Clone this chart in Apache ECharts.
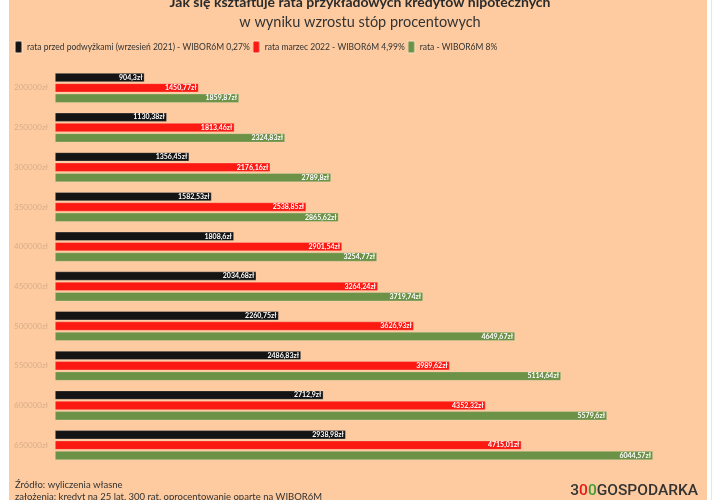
<!DOCTYPE html>
<html>
<head>
<meta charset="utf-8">
<script src="https://cdn.jsdelivr.net/npm/echarts@6/dist/echarts.min.js"></script>
<style>
  html, body { margin: 0; padding: 0; background: #ffffff; }
  #frame { position: absolute; left: 9px; top: 0; width: 698px; height: 500px; background: #fdcb9f; }
  #edge { position: absolute; left: 711px; top: 0; width: 1px; height: 500px; background: #e6e6e6; }
  #chart { position: absolute; left: 0; top: 0; width: 720px; height: 500px; }
</style>
</head>
<body>
<div id="frame"></div>
<div id="edge"></div>
<div id="chart"></div>
<script>
const FONT = "Lato, sans-serif";
const titleText = 'Jak się kształtuje rata przykładowych kredytów hipotecznych';
const subtitleText = 'w wyniku wzrostu stóp procentowych';
const categories = ['200000zł','250000zł','300000zł','350000zł','400000zł','450000zł','500000zł','550000zł','600000zł','650000zł'];
const seriesNames = ['rata przed podwyżkami (wrzesień 2021) - WIBOR6M 0,27%', 'rata marzec 2022 - WIBOR6M 4,99%', 'rata - WIBOR6M 8%'];
const rateBefore = [904.3, 1130.38, 1356.45, 1582.53, 1808.6, 2034.68, 2260.75, 2486.83, 2712.9, 2938.98];
const rateMarch = [1450.77, 1813.46, 2176.16, 2538.85, 2901.54, 3264.24, 3626.93, 3989.62, 4352.32, 4715.01];
const rate8 = [1859.87, 2324.83, 2789.8, 2865.62, 3254.77, 3719.74, 4649.67, 5114.64, 5579.6, 6044.57];
const colors = ['#141414', '#fb1912', '#6b9246'];
const sourceText = 'Źródło: wyliczenia własne';
const assumptionText = 'założenia: kredyt na 25 lat, 300 rat, oprocentowanie oparte na WIBOR6M';

const chart = echarts.init(document.getElementById('chart'));
const fmt = p => String(p.value).replace('.', ',') + 'zł';
const mk = (name, data, color) => ({
  name, type: 'bar', data,
  barWidth: 9, barGap: '15%',
  itemStyle: { color, borderColor: 'rgba(255,225,200,0.5)', borderWidth: 0.6 },
  label: { show: true, position: 'insideRight', distance: 2, formatter: fmt,
    color: '#ffffff', fontSize: 7, fontWeight: 'bold', fontFamily: FONT },
  emphasis: { disabled: true }
});
chart.setOption({
  animation: false,
  color: colors,
  title: [
    { text: titleText, left: 'center', top: -5, padding: 0,
      textStyle: { fontFamily: FONT, fontSize: 14, fontWeight: 'bold', color: '#2b2b2b' } },
    { text: subtitleText, left: 'center', top: 15, padding: 0,
      textStyle: { fontFamily: FONT, fontSize: 14.5, fontWeight: 'normal', color: '#333333' } }
  ],
  legend: {
    left: 14, top: 40, padding: 0, itemGap: 2, itemWidth: 7, itemHeight: 12,
    icon: 'roundRect',
    textStyle: { fontFamily: FONT, fontSize: 8.5, color: '#333333' },
    data: seriesNames
  },
  grid: { left: 55, right: 22, top: 68, bottom: 35 },
  xAxis: { type: 'value', min: 0, max: 6500, show: false },
  yAxis: {
    type: 'category', data: categories, inverse: true,
    axisLine: { show: false }, axisTick: { show: false },
    axisLabel: { color: '#d9ad88', fontSize: 8, fontFamily: FONT, margin: 7 }
  },
  series: [
    mk(seriesNames[0], rateBefore, colors[0]),
    mk(seriesNames[1], rateMarch, colors[1]),
    mk(seriesNames[2], rate8, colors[2])
  ],
  graphic: [
    { type: 'text', left: 15, top: 480, style: { text: sourceText, font: "9.5px " + FONT, fill: '#333333' } },
    { type: 'text', left: 15, top: 492, style: { text: assumptionText, font: "9.5px " + FONT, fill: '#333333' } },
    { type: 'text', right: 22, top: 483, style: {
        text: '{d|3}{r|0}{g|0}{d|GOSPODARKA}',
        rich: {
          d: { fill: '#333333', font: "500 15.5px Roboto, sans-serif" },
          r: { fill: '#e21b1b', font: "500 15.5px Roboto, sans-serif" },
          g: { fill: '#3f9b35', font: "500 15.5px Roboto, sans-serif" }
        }
      } }
  ]
});
</script>
</body>
</html>
